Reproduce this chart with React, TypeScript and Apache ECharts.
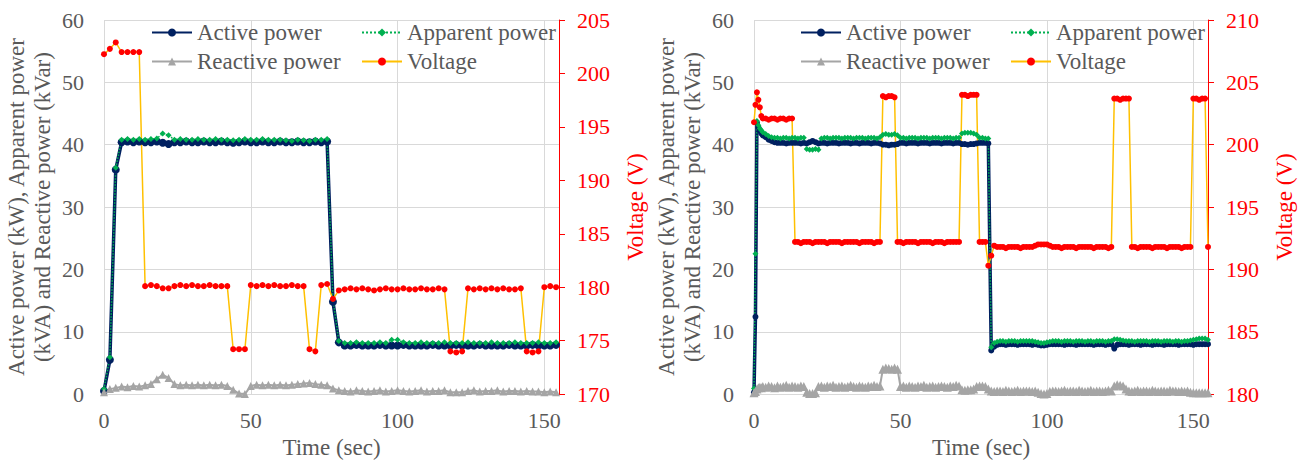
import { useEffect, useRef } from "react";
import * as echarts from "echarts";

const SERIF = "Liberation Serif";
const TEXT_GREY = "#595959";
const GRID_GREY = "#D9D9D9";
const NAVY = "#002060";
const GREEN = "#00B050";
const GREY = "#A5A5A5";
const YELLOW = "#FFC000";
const RED = "#FF0000";

// Series names shared by both panels
const NAMES = ["Active power", "Apparent power", "Reactive power", "Voltage"];
const X_NAME = "Time (sec)";
const Y_NAME = "Active power (kW), Apparent power\n(kVA) and Reactive power (kVar)";
const V_NAME = "Voltage (V)";

// ---------- Left panel: 2-s logging ----------
const time1 = [
  0, 2, 4, 6, 8, 10, 12, 14, 16, 18,
  20, 22, 24, 26, 28, 30, 32, 34, 36, 38,
  40, 42, 44, 46, 48, 50, 52, 54, 56, 58,
  60, 62, 64, 66, 68, 70, 72, 74, 76, 78,
  80, 82, 84, 86, 88, 90, 92, 94, 96, 98,
  100, 102, 104, 106, 108, 110, 112, 114, 116, 118,
  120, 122, 124, 126, 128, 130, 132, 134, 136, 138,
  140, 142, 144, 146, 148, 150, 152, 154,
];
const active1 = [
  0.5, 5.5, 36.0, 40.4, 40.5, 40.4, 40.5, 40.4, 40.4, 40.5,
  40.3, 40.1, 40.4, 40.4, 40.5, 40.4, 40.4, 40.5, 40.4, 40.4,
  40.5, 40.4, 40.3, 40.4, 40.5, 40.4, 40.4, 40.5, 40.4, 40.4,
  40.5, 40.4, 40.4, 40.5, 40.4, 40.4, 40.5, 40.4, 40.5, 14.8,
  8.3, 7.8, 7.8, 7.9, 7.8, 7.8, 7.8, 7.9, 7.8, 7.8,
  7.8, 7.9, 7.8, 7.8, 7.8, 7.8, 7.9, 7.8, 7.8, 7.8,
  7.9, 7.8, 7.8, 7.8, 7.9, 7.8, 7.8, 7.8, 7.8, 7.9,
  7.8, 7.8, 7.8, 7.9, 7.8, 7.8, 7.8, 7.9,
];
const apparent1 = [
  0.8, 5.9, 36.3, 40.8, 40.9, 40.8, 40.9, 40.8, 40.9, 41.0,
  41.8, 41.5, 40.8, 40.9, 40.8, 40.8, 40.9, 40.8, 40.8, 40.9,
  40.8, 40.8, 40.7, 40.8, 40.9, 40.8, 40.8, 40.9, 40.8, 40.8,
  40.8, 40.7, 40.6, 40.8, 40.7, 40.6, 40.8, 40.8, 40.9, 15.2,
  8.5, 8.2, 8.2, 8.3, 8.2, 8.2, 8.2, 8.3, 8.2, 8.7,
  8.7, 8.3, 8.2, 8.2, 8.3, 8.2, 8.2, 8.2, 8.3, 8.2,
  8.2, 8.2, 8.3, 8.2, 8.2, 8.2, 8.3, 8.2, 8.2, 8.2,
  8.3, 8.2, 8.2, 8.2, 8.3, 8.2, 8.2, 8.3,
];
const reactive1 = [
  0.3, 0.8, 1.0, 1.2, 1.1, 1.3, 1.2, 1.4, 1.6, 2.4,
  3.1, 2.6, 1.6, 1.4, 1.5, 1.4, 1.5, 1.4, 1.5, 1.4,
  1.5, 1.3, 0.7, 0.1, 0.0, 1.3, 1.5, 1.4, 1.5, 1.4,
  1.5, 1.4, 1.5, 1.6, 1.7, 1.8, 1.6, 1.5, 1.4, 0.9,
  0.6, 0.5, 0.4, 0.6, 0.5, 0.4, 0.5, 0.6, 0.4, 0.5,
  0.6, 0.5, 0.4, 0.5, 0.6, 0.4, 0.5, 0.5, 0.6, 0.3,
  0.3, 0.3, 0.5, 0.6, 0.4, 0.5, 0.5, 0.6, 0.4, 0.5,
  0.5, 0.4, 0.5, 0.4, 0.4, 0.3, 0.4, 0.3,
];
const voltage1 = [
  201.8, 202.3, 202.9, 202.0, 202.0, 202.0, 202.0, 180.1, 180.2, 180.1,
  179.9, 179.9, 180.1, 180.2, 180.1, 180.2, 180.1, 180.1, 180.2, 180.1,
  180.1, 180.1, 174.2, 174.2, 174.2, 180.2, 180.1, 180.2, 180.1, 180.2,
  180.1, 180.1, 180.2, 180.1, 180.1, 174.2, 174.0, 180.2, 180.3, 178.9,
  179.7, 179.8, 179.9, 179.8, 179.9, 179.8, 179.7, 179.8, 179.9, 179.8,
  179.8, 179.9, 179.8, 179.8, 179.9, 179.8, 179.8, 179.9, 179.8, 174.0,
  173.9, 174.0, 179.9, 179.8, 179.9, 179.8, 179.9, 179.8, 179.9, 179.8,
  179.8, 179.9, 174.0, 173.9, 174.0, 180.0, 180.1, 180.0,
];

// ---------- Right panel: 0.5-s at start-up, then 1-s logging ----------
const time2 = [
  0, 0.5, 1, 1.5, 2, 2.5, 3,
  4, 5, 6, 7, 8, 9, 10, 11, 12, 13,
  14, 15, 16, 17, 18, 19, 20, 21, 22, 23,
  24, 25, 26, 27, 28, 29, 30, 31, 32, 33,
  34, 35, 36, 37, 38, 39, 40, 41, 42, 43,
  44, 45, 46, 47, 48, 49, 50, 51, 52, 53,
  54, 55, 56, 57, 58, 59, 60, 61, 62, 63,
  64, 65, 66, 67, 68, 69, 70, 71, 72, 73,
  74, 75, 76, 77, 78, 79, 80, 81, 82, 83,
  84, 85, 86, 87, 88, 89, 90, 91, 92, 93,
  94, 95, 96, 97, 98, 99, 100, 101, 102, 103,
  104, 105, 106, 107, 108, 109, 110, 111, 112, 113,
  114, 115, 116, 117, 118, 119, 120, 121, 122, 123,
  124, 125, 126, 127, 128, 129, 130, 131, 132, 133,
  134, 135, 136, 137, 138, 139, 140, 141, 142, 143,
  144, 145, 146, 147, 148, 149, 150, 151, 152, 153,
  154, 155,
];
const active2 = [
  0.3, 12.4, 43.5, 42.8, 42.2, 41.8, 41.5,
  41.2, 40.8, 40.6, 40.4, 40.3, 40.3, 40.3, 40.2, 40.3, 40.3,
  40.3, 40.3, 40.2, 40.3, 40.2, 40.4, 40.6, 40.4, 40.2, 40.3,
  40.3, 40.2, 40.3, 40.3, 40.3, 40.2, 40.3, 40.3, 40.3, 40.2,
  40.3, 40.3, 40.2, 40.3, 40.3, 40.3, 40.2, 40.3, 40.3, 40.2,
  40.0, 40.0, 39.9, 40.0, 40.0, 40.1, 40.3, 40.3, 40.2, 40.3,
  40.3, 40.3, 40.2, 40.3, 40.3, 40.3, 40.2, 40.3, 40.3, 40.3,
  40.2, 40.3, 40.3, 40.3, 40.2, 40.3, 40.3, 40.1, 40.1, 40.0,
  40.1, 40.1, 40.2, 40.3, 40.3, 40.3, 40.2, 7.0, 7.6, 7.9,
  8.0, 8.0, 7.9, 8.0, 8.0, 8.0, 7.9, 8.0, 8.0, 8.0,
  8.0, 7.9, 8.0, 7.9, 7.8, 7.8, 7.9, 8.0, 8.0, 8.0,
  8.0, 8.0, 7.9, 8.0, 8.0, 8.0, 7.9, 8.0, 8.0, 8.0,
  8.0, 8.0, 7.9, 8.0, 8.0, 8.0, 7.9, 8.0, 8.0, 7.3,
  7.9, 8.0, 8.0, 8.0, 7.9, 8.0, 8.0, 8.0, 7.9, 8.0,
  8.0, 8.0, 7.9, 8.0, 8.0, 8.0, 7.9, 8.0, 8.0, 8.0,
  8.0, 7.9, 8.0, 8.0, 8.0, 8.0, 7.9, 8.0, 8.0, 8.0,
  8.0, 8.0,
];
const apparent2 = [
  0.9, 22.5, 43.8, 43.1, 42.6, 42.3, 42.0,
  41.7, 41.4, 41.2, 41.1, 41.1, 41.0, 41.1, 41.1, 41.0, 41.1,
  41.1, 41.0, 41.1, 41.1, 39.3, 39.2, 39.2, 39.3, 39.2, 41.0,
  41.1, 41.1, 41.0, 41.1, 41.1, 41.1, 41.0, 41.1, 41.1, 41.1,
  41.0, 41.1, 41.1, 41.1, 41.0, 41.1, 41.1, 41.1, 41.0, 41.2,
  41.6, 41.7, 41.6, 41.6, 41.7, 41.5, 41.1, 41.1, 41.0, 41.1,
  41.1, 41.1, 41.0, 41.1, 41.1, 41.1, 41.0, 41.1, 41.1, 41.1,
  41.0, 41.1, 41.1, 41.1, 41.0, 41.1, 41.1, 41.8, 41.9, 41.9,
  41.9, 41.8, 41.6, 41.1, 41.1, 41.0, 41.0, 7.5, 8.2, 8.4,
  8.5, 8.5, 8.4, 8.5, 8.5, 8.5, 8.4, 8.5, 8.5, 8.5,
  8.5, 8.5, 8.4, 8.3, 8.2, 8.2, 8.3, 8.4, 8.5, 8.5,
  8.5, 8.4, 8.5, 8.5, 8.5, 8.4, 8.5, 8.5, 8.5, 8.4,
  8.5, 8.5, 8.4, 8.5, 8.5, 8.5, 8.4, 8.5, 8.5, 8.8,
  8.8, 8.7, 8.6, 8.5, 8.5, 8.5, 8.4, 8.5, 8.5, 8.5,
  8.5, 8.4, 8.5, 8.5, 8.5, 8.4, 8.5, 8.5, 8.5, 8.4,
  8.5, 8.5, 8.4, 8.5, 8.5, 8.6, 8.7, 8.8, 8.9, 8.9,
  8.9, 8.7,
];
const reactive2 = [
  0.2, 0.4, 0.8, 1.0, 1.1, 1.0, 1.2,
  1.1, 1.3, 1.2, 1.0, 1.3, 1.1, 1.2, 1.4, 1.1, 1.3,
  1.2, 1.1, 1.3, 1.2, 0.3, 0.1, 0.1, 0.2, 1.2, 1.3,
  1.1, 1.3, 1.2, 1.4, 1.1, 1.2, 1.3, 1.1, 1.2, 1.4,
  1.2, 1.1, 1.3, 1.2, 1.1, 1.3, 1.2, 1.4, 1.2, 1.3,
  4.0, 4.2, 4.1, 4.0, 4.2, 4.0, 1.2, 1.3, 1.1, 1.3,
  1.2, 1.1, 1.3, 1.2, 1.4, 1.1, 1.2, 1.3, 1.1, 1.2,
  1.3, 1.2, 1.1, 1.3, 1.2, 1.4, 1.3, 0.7, 0.6, 0.7,
  0.7, 0.8, 1.2, 1.3, 1.3, 1.2, 0.8, 0.5, 0.4, 0.5,
  0.5, 0.4, 0.6, 0.5, 0.4, 0.5, 0.6, 0.4, 0.5, 0.5,
  0.5, 0.4, 0.5, 0.3, 0.1, 0.0, 0.1, 0.4, 0.5, 0.5,
  0.4, 0.5, 0.6, 0.4, 0.5, 0.5, 0.4, 0.6, 0.5, 0.4,
  0.5, 0.6, 0.4, 0.5, 0.5, 0.4, 0.5, 0.6, 0.5, 1.3,
  1.5, 1.4, 1.3, 0.8, 0.5, 0.4, 0.5, 0.6, 0.4, 0.5,
  0.5, 0.4, 0.6, 0.5, 0.4, 0.5, 0.5, 0.4, 0.6, 0.5,
  0.5, 0.4, 0.5, 0.4, 0.5, 0.3, 0.2, 0.2, 0.2, 0.2,
  0.2, 0.2,
];
const voltage2 = [
  201.8, 203.2, 204.2, 203.6, 203.0, 202.3, 202.1,
  202.1, 202.0, 202.1, 202.1, 202.0, 202.1, 202.1, 202.0, 202.1, 202.1,
  192.2, 192.2, 192.1, 192.2, 192.2, 192.2, 192.1, 192.2, 192.2, 192.2,
  192.2, 192.1, 192.2, 192.2, 192.2, 192.2, 192.1, 192.2, 192.2, 192.2,
  192.2, 192.2, 192.1, 192.2, 192.2, 192.2, 192.2, 192.1, 192.2, 192.2,
  203.9, 203.8, 203.9, 203.9, 203.8, 192.2, 192.2, 192.1, 192.2, 192.2,
  192.2, 192.2, 192.1, 192.2, 192.2, 192.2, 192.2, 192.1, 192.2, 192.2,
  192.2, 192.1, 192.2, 192.2, 192.2, 192.2, 192.2, 204.0, 204.0, 203.9,
  204.0, 204.0, 204.0, 192.2, 192.2, 192.2, 190.3, 191.1, 191.9, 191.8,
  191.8, 191.8, 191.7, 191.8, 191.8, 191.8, 191.8, 191.7, 191.8, 191.8,
  191.8, 191.8, 191.9, 192.0, 192.0, 192.0, 192.0, 191.9, 191.8, 191.8,
  191.8, 191.7, 191.8, 191.8, 191.8, 191.8, 191.7, 191.8, 191.8, 191.8,
  191.8, 191.8, 191.7, 191.8, 191.8, 191.8, 191.8, 191.7, 191.8, 203.7,
  203.7, 203.6, 203.7, 203.7, 203.7, 191.8, 191.8, 191.7, 191.8, 191.8,
  191.8, 191.8, 191.7, 191.8, 191.8, 191.8, 191.8, 191.7, 191.8, 191.8,
  191.8, 191.8, 191.7, 191.8, 191.8, 191.8, 203.7, 203.7, 203.6, 203.7,
  203.7, 191.8,
];

// Axis ranges
const X_MAX = 155;
const X_STEP = 50;
const P_MIN = 0;
const P_MAX = 60;
const P_STEP = 10;
const V1_MIN = 170;
const V1_MAX = 205;
const V2_MIN = 180;
const V2_MAX = 210;
const V_STEP = 5;

const pairs = (t: number[], v: number[]) => t.map((x, i) => [x, v[i]]);

const labelFont = { fontFamily: SERIF, fontSize: 22, color: TEXT_GREY };
const nameFont = { fontFamily: SERIF, fontSize: 23, color: TEXT_GREY };

function xAxisFor(gridIndex: number) {
  return {
    type: "value",
    gridIndex,
    min: 0,
    max: X_MAX,
    interval: X_STEP,
    axisLine: { show: true, lineStyle: { color: GRID_GREY } },
    axisTick: { show: false },
    axisLabel: { ...labelFont, margin: 15, showMaxLabel: false },
    splitLine: { show: true, lineStyle: { color: GRID_GREY, width: 1 } },
    name: X_NAME,
    nameLocation: "middle",
    nameGap: 41,
    nameTextStyle: nameFont,
  };
}

function powerAxisFor(gridIndex: number) {
  return {
    type: "value",
    gridIndex,
    position: "left",
    min: P_MIN,
    max: P_MAX,
    interval: P_STEP,
    axisLine: { show: false },
    axisTick: { show: false },
    axisLabel: { ...labelFont, margin: 20 },
    splitLine: { show: true, lineStyle: { color: GRID_GREY, width: 1 } },
    name: Y_NAME,
    nameLocation: "middle",
    nameRotate: 90,
    nameGap: 49,
    nameTextStyle: { ...nameFont, lineHeight: 26 },
  };
}

function voltageAxisFor(gridIndex: number, min: number, max: number) {
  return {
    type: "value",
    gridIndex,
    position: "right",
    min,
    max,
    interval: V_STEP,
    axisLine: { show: true, lineStyle: { color: RED, width: 1 } },
    axisTick: { show: true, inside: false, length: 6, lineStyle: { color: RED } },
    axisLabel: { fontFamily: SERIF, fontSize: 22, color: RED, margin: 18 },
    splitLine: { show: false },
    name: V_NAME,
    nameLocation: "middle",
    nameRotate: 90,
    nameGap: 65,
    nameTextStyle: { fontFamily: SERIF, fontSize: 23, color: RED },
  };
}

function seriesFor(
  panel: number,
  t: number[],
  a: number[],
  s: number[],
  r: number[],
  v: number[],
  activeSize: number,
  triSize: number
) {
  const common = { type: "line", xAxisIndex: panel, animation: false };
  return [
    {
      ...common,
      name: NAMES[0],
      yAxisIndex: panel * 2,
      data: pairs(t, a),
      symbol: "circle",
      symbolSize: activeSize,
      color: NAVY,
      lineStyle: { color: NAVY, width: 3.5 },
      itemStyle: { color: NAVY },
    },
    {
      ...common,
      name: NAMES[1],
      yAxisIndex: panel * 2,
      data: pairs(t, s),
      symbol: "diamond",
      symbolSize: 6,
      color: GREEN,
      lineStyle: { color: GREEN, width: 1.5, type: "dotted" },
      itemStyle: { color: GREEN },
    },
    {
      ...common,
      name: NAMES[2],
      yAxisIndex: panel * 2,
      data: pairs(t, r),
      symbol: "triangle",
      symbolSize: triSize,
      color: GREY,
      lineStyle: { color: GREY, width: 2 },
      itemStyle: { color: GREY },
    },
    {
      ...common,
      name: NAMES[3],
      yAxisIndex: panel * 2 + 1,
      data: pairs(t, v),
      symbol: "circle",
      symbolSize: 6,
      color: RED,
      lineStyle: { color: YELLOW, width: 1.5 },
      itemStyle: { color: RED },
    },
  ];
}

function legendsFor(left: number) {
  const spots = [
    [left, 21],
    [left + 210, 21],
    [left, 50],
    [left + 210, 50],
  ];
  return NAMES.map((name, i) => ({
    data: [name],
    left: spots[i][0],
    top: spots[i][1],
    padding: 0,
    itemWidth: 40,
    itemHeight: 10,
    selectedMode: false,
    textStyle: { fontFamily: SERIF, fontSize: 23, color: TEXT_GREY },
  }));
}

export default function App() {
  const ref = useRef<HTMLDivElement>(null);

  useEffect(() => {
    if (!ref.current) return;
    const chart = echarts.init(ref.current, undefined, { renderer: "svg" });
    chart.setOption({
      animation: false,
      backgroundColor: "#ffffff",
      textStyle: { fontFamily: SERIF },
      grid: [
        { left: 104, top: 20, width: 455, height: 375.5 },
        { left: 754, top: 20, width: 454, height: 376 },
      ],
      legend: [...legendsFor(151), ...legendsFor(800)],
      xAxis: [xAxisFor(0), xAxisFor(1)],
      yAxis: [
        powerAxisFor(0),
        voltageAxisFor(0, V1_MIN, V1_MAX),
        powerAxisFor(1),
        voltageAxisFor(1, V2_MIN, V2_MAX),
      ],
      series: [
        ...seriesFor(0, time1, active1, apparent1, reactive1, voltage1, 8, 8),
        ...seriesFor(1, time2, active2, apparent2, reactive2, voltage2, 6, 9),
      ],
    });
    return () => chart.dispose();
  }, []);

  return (
    <div
      ref={ref}
      style={{ position: "absolute", left: 0, top: 0, width: 1305, height: 464, background: "#fff" }}
    />
  );
}
